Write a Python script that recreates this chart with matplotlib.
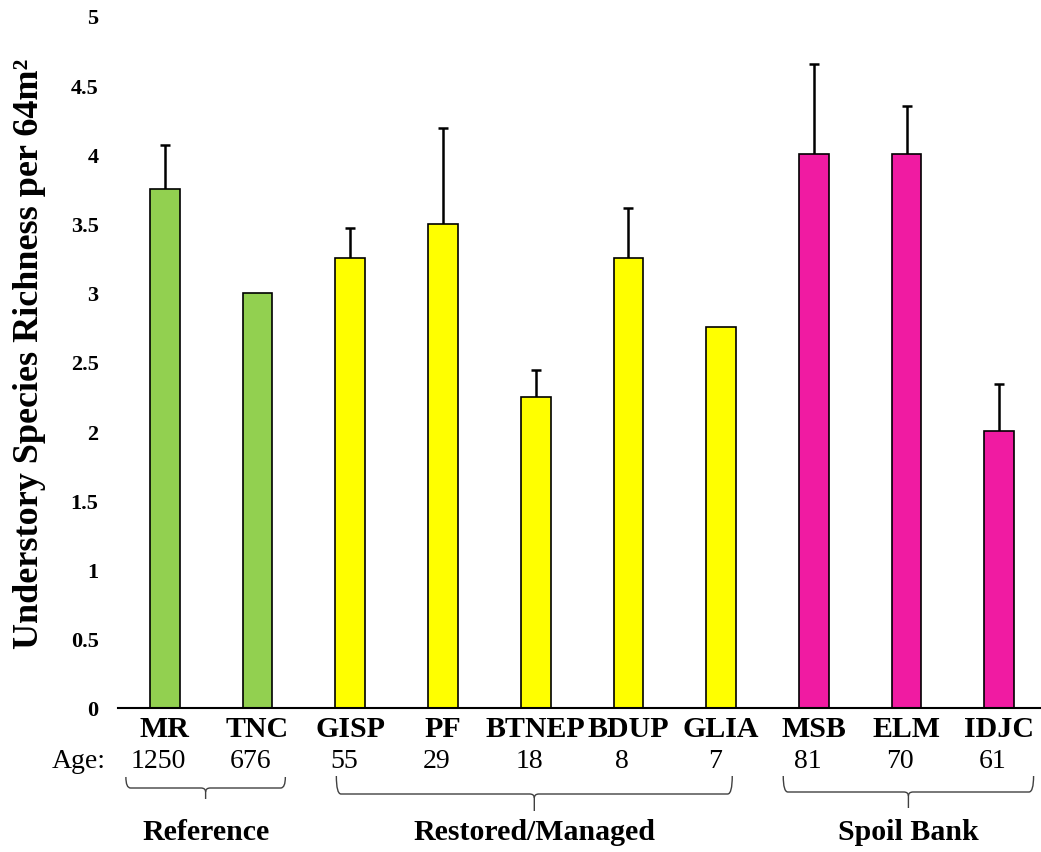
import numpy as np
import matplotlib
matplotlib.use("Agg")
import matplotlib.pyplot as plt
import matplotlib.transforms as mtransforms
from matplotlib.path import Path
from matplotlib.patches import PathPatch

plt.rcParams['font.family'] = ['Liberation Serif', 'DejaVu Serif']

# data
sites = ["MR", "TNC", "GISP", "PF", "BTNEP", "BDUP", "GLIA", "MSB", "ELM", "IDJC"]
ages = ["1250", "676", "55", "29", "18", "8", "7", "81", "70", "61"]
richness = [3.75, 3.0, 3.25, 3.5, 2.25, 3.25, 2.75, 4.0, 4.0, 2.0]
err_up = [0.32, np.nan, 0.22, 0.69, 0.19, 0.36, np.nan, 0.65, 0.35, 0.34]
groups = ["Reference", "Restored/Managed", "Spoil Bank"]
group_first = [0, 2, 7]
group_last = [1, 6, 9]
group_colors = ["#92D050", "#FFFF00", "#F01BA2"]

colors = []
for g in range(len(groups)):
    colors += [group_colors[g]] * (group_last[g] - group_first[g] + 1)

fig = plt.figure(figsize=(10.41, 8.53), dpi=100)
W, H = 1041, 853
ax = fig.add_axes([118 / W, (H - 709) / H, (1041 - 118) / W, (709 - 17) / H])

x = np.arange(len(sites))
ax.bar(x, richness, width=0.32, color=colors, edgecolor="black", linewidth=1.2, zorder=2)
eb = ax.errorbar(x, richness, yerr=[np.zeros(len(x)), err_up], fmt="none",
                 ecolor="black", elinewidth=1.8, capsize=3.8, capthick=1.8, zorder=1)
# hide the lower caps (they sit on the bar tops)
eb[1][0].set_visible(False)

ax.set_ylim(0, 5)
ax.set_xlim(-0.505, 9.45)
ax.set_yticks(np.arange(0, 5.01, 0.5))
ax.set_yticklabels(["0", "0.5", "1", "1.5", "2", "2.5", "3", "3.5", "4", "4.5", "5"],
                   fontweight="bold", fontsize=16)
ax.tick_params(axis="y", length=0, pad=14)
ax.set_xticks(x)
ax.set_xticklabels(sites, fontweight="bold", fontsize=21.5)
ax.tick_params(axis="x", length=0, pad=5)
for s in ["top", "right", "left"]:
    ax.spines[s].set_visible(False)
ax.spines["bottom"].set_linewidth(1.5)

ax.set_ylabel("Understory Species Richness per 64m²", fontweight="bold", fontsize=26)
ax.yaxis.set_label_coords(-0.078, 0.513)

# ages row
trans = mtransforms.blended_transform_factory(ax.transData, ax.transAxes)
def ay(py):
    return (709 - py) / 692.0

for i, a in enumerate(ages):
    ax.text(i - 0.07, ay(762), a, transform=trans, ha="center", va="center", fontsize=20, clip_on=False)
fig.text(106 / W, 1 - 762 / H, "Age:", ha="right", va="center", fontsize=20)

# curly brackets under each group
pads = [(-0.42, 0.30), (-0.15, 0.12), (-0.33, 0.37)]
tops = [778, 777, 777]
mids = [789, 795, 793]
tips = [800, 812, 809]
for g, name in enumerate(groups):
    x0 = group_first[g] + pads[g][0]
    x1 = group_last[g] + pads[g][1]
    xm = (x0 + x1) / 2
    yt, yh, yb = ay(tops[g]), ay(mids[g]), ay(tips[g])
    d = 0.05
    dy = 4 / 692.0
    verts = [(x0, yt), (x0, yh), (x0 + d, yh),
             (xm - d, yh), (xm, yh), (xm, yh - dy),
             (xm, yb)]
    codes = [Path.MOVETO, Path.CURVE3, Path.CURVE3,
             Path.LINETO, Path.CURVE3, Path.CURVE3, Path.LINETO]
    verts2 = [(x1, yt), (x1, yh), (x1 - d, yh),
              (xm + d, yh), (xm, yh), (xm, yh - dy)]
    codes2 = [Path.MOVETO, Path.CURVE3, Path.CURVE3,
              Path.LINETO, Path.CURVE3, Path.CURVE3]
    for v, c in [(verts, codes), (verts2, codes2)]:
        ax.add_patch(PathPatch(Path(v, c), transform=trans, fill=False,
                               edgecolor="#404040", linewidth=1.0, clip_on=False))
    ax.text(xm, ay(833), name, transform=trans, ha="center", va="center",
            fontsize=21.5, fontweight="bold", clip_on=False)

fig.savefig("out.png", dpi=100)
